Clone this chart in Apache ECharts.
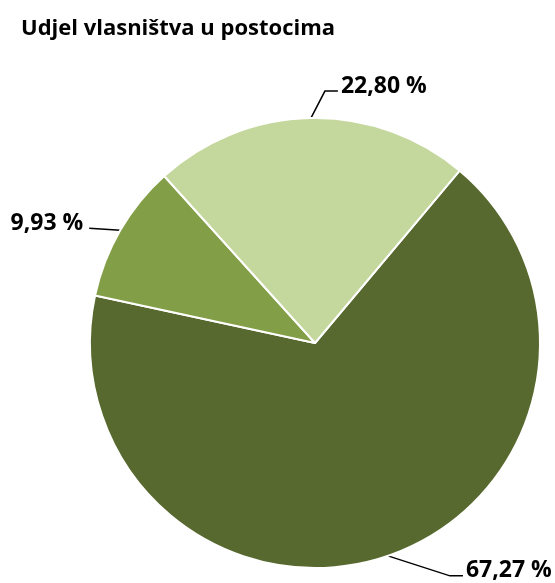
<!DOCTYPE html>
<html>
<head>
<meta charset="utf-8">
<script src="https://cdn.jsdelivr.net/npm/echarts@6/dist/echarts.min.js"></script>
<style>
  html, body { margin: 0; padding: 0; background: #fff; }
  #chart { width: 555px; height: 583px; }
</style>
</head>
<body>
<div id="chart"></div>
<script>
// Podaci za graf
const kategorije = ['Vlasnik A', 'Vlasnik B', 'Vlasnik C'];
const udjeli = [67.27, 9.93, 22.80];
const boje = ['#58692F', '#829E46', '#C4D79C'];

// Smjer vodilice za svaku oznaku: [dx, dy] prvi segment, vodoravni nastavak, strana teksta
const vodilice = [
    { d: [62, 20], h: 13, strana: 'left' },
    { d: [-31, -2], h: 0, strana: 'right' },
    { d: [14, -27], h: 13, strana: 'left' }
];

const chart = echarts.init(document.getElementById('chart'));

const option = {
    title: {
        text: 'Udjel vlasništva u postocima',
        left: 16,
        top: 13,
        textStyle: { fontFamily: 'Open Sans', fontWeight: 'bold', fontSize: 22, color: '#000' }
    },
    series: [{
        type: 'pie',
        center: [315, 343],
        radius: 225,
        startAngle: 50,
        clockwise: true,
        animation: false,
        data: kategorije.map((k, i) => ({
            name: k,
            value: udjeli[i],
            itemStyle: { color: boje[i] }
        })),
        itemStyle: { borderColor: '#fff', borderWidth: 2 },
        label: {
            show: true,
            overflow: 'none',
            formatter: p => p.value.toFixed(2).replace('.', ',') + ' %',
            fontFamily: 'Open Sans',
            fontWeight: 'bold',
            fontSize: 23,
            color: '#000'
        },
        labelLine: {
            show: true,
            lineStyle: { color: '#000', width: 1.5 }
        },
        labelLayout: function (params) {
            const v = vodilice[params.dataIndex];
            const p0 = params.labelLinePoints[0];
            const p1 = [p0[0] + v.d[0], p0[1] + v.d[1]];
            const p2 = [p1[0] + (v.strana === 'left' ? v.h : -v.h), p1[1]];
            return {
                x: p2[0] + (v.strana === 'left' ? 3 : -6),
                y: p2[1] - 5,
                align: v.strana,
                verticalAlign: 'middle',
                labelLinePoints: [p0, p1, p2]
            };
        }
    }]
};

chart.setOption(option);
</script>
</body>
</html>
